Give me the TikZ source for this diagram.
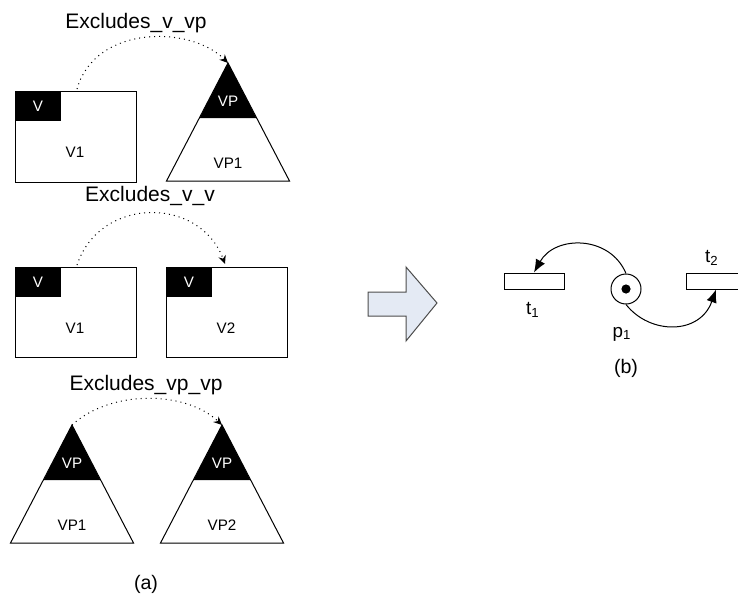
\documentclass[tikz,border=0pt]{standalone}
\usepackage{fontspec}
\setmainfont{Liberation Sans}
\usetikzlibrary{arrows.meta}
\definecolor{arrowfill}{HTML}{E4EAF4}
\tikzset{
  lbl/.style={font=\fontsize{10.5}{12}\selectfont, inner sep=1pt},
  small/.style={font=\fontsize{7.6}{9}\selectfont, inner sep=0pt},
  captext/.style={font=\fontsize{9.8}{11}\selectfont, inner sep=0pt},
  pn/.style={font=\fontsize{9.4}{11}\selectfont, inner sep=0pt},
  excl/.style={dotted, line width=0.5pt, -{Stealth[length=4.2pt,width=3.8pt]}},
  outline/.style={draw=black, line width=0.5pt},
  trans/.style={draw=black, line width=0.5pt, fill=white, rectangle, minimum width=30pt, minimum height=8pt, inner sep=0pt},
  place/.style={draw=black, line width=0.5pt, fill=white, circle, minimum size=15pt, inner sep=0pt},
  token/.style={fill=black, circle, minimum size=4.6pt, inner sep=0pt},
  pnarc/.style={line width=0.5pt, -{Latex[length=6.5pt,width=5.2pt]}}
}
% rectangle with black V corner: #1 name, #2 left x, #3 top y, #4 height, #5 label
\newcommand\VBox[5]{%
  \draw[outline, fill=white] (#2,#3) rectangle ++(121,#4);
  \fill[black] (#2,#3) rectangle ++(46,30);
  \node[small, text=white] (#1v) at ([shift={(23,15)}]#2,#3) {V};
  \node[small] (#1l) at ([shift={(60,61)}]#2,#3) {#5};
  \coordinate (#1top) at ([shift={(62,-2)}]#2,#3);
}
% triangle with black VP top: #1 name, #2 apex x, #3 apex y, #4 label
\newcommand\VPTri[4]{%
  \draw[outline, fill=white] (#2,#3) -- ++(-61.5,118) -- ++(123,0) -- cycle;
  \fill[black] (#2,#3) -- ++(-28.4,55) -- ++(56.8,0) -- cycle;
  \node[small, text=white] (#1v) at ([shift={(0,38)}]#2,#3) {VP};
  \node[small] (#1l) at ([shift={(0,100)}]#2,#3) {#4};
  \coordinate (#1apex) at (#2,#3);
}
\begin{document}
\begin{tikzpicture}[x=0.5pt, y=-0.5pt]
\useasboundingbox (0,0) rectangle (738,594);
\clip (0,0) rectangle (738,594);

% ---- top row
\node[lbl] (L1) at (136,23) {Excludes\_v\_vp};
\VBox{a}{15}{91}{91}{V1}
\VPTri{b}{228}{63}{VP1}
\draw[excl] (atop) .. controls (95,25) and (190,25) .. (bapex);

% ---- middle row
\node[lbl] (L2) at (150,196) {Excludes\_v\_v};
\VBox{c}{15}{267}{90}{V1}
\VBox{d}{166}{267}{90}{V2}
\coordinate (dtarget) at (225,264);
\draw[excl] (ctop) .. controls (100,196) and (200,196) .. (dtarget);

% ---- bottom row
\node[lbl] (L3) at (146,385) {Excludes\_vp\_vp};
\VPTri{e}{72}{425}{VP1}
\VPTri{f}{222}{425}{VP2}
\draw[excl] (eapex) .. controls (110,390) and (185,390) .. (fapex);
\node[captext] (capa) at (146,584) {(a)};

% ---- block arrow
\draw[draw=black!70, line width=0.5pt, fill=arrowfill]
  (368,292) -- (406,292) -- (406,267) -- (437,303) -- (406,341) -- (406,316) -- (368,316) -- cycle;

% ---- Petri net
\node[trans] (t1) at (534,281) {};
\node[trans] (t2) at (716,281) {};
\node[place] (p1) at (626,289) {};
\node[token] (tok) at (p1) {};
\node[pn] (t1l) at (533,310) {t\textsubscript{1}};
\node[pn] (t2l) at (712,258) {t\textsubscript{2}};
\node[pn] (p1l) at (622,334) {p\textsubscript{1}};
\node[captext] (capb) at (626,368) {(b)};
\draw[pnarc] (p1.north) .. controls (610,235) and (555,235) .. (t1.north);
\draw[pnarc] (p1.south) .. controls (650,335) and (700,335) .. (t2.south);
\end{tikzpicture}
\end{document}
